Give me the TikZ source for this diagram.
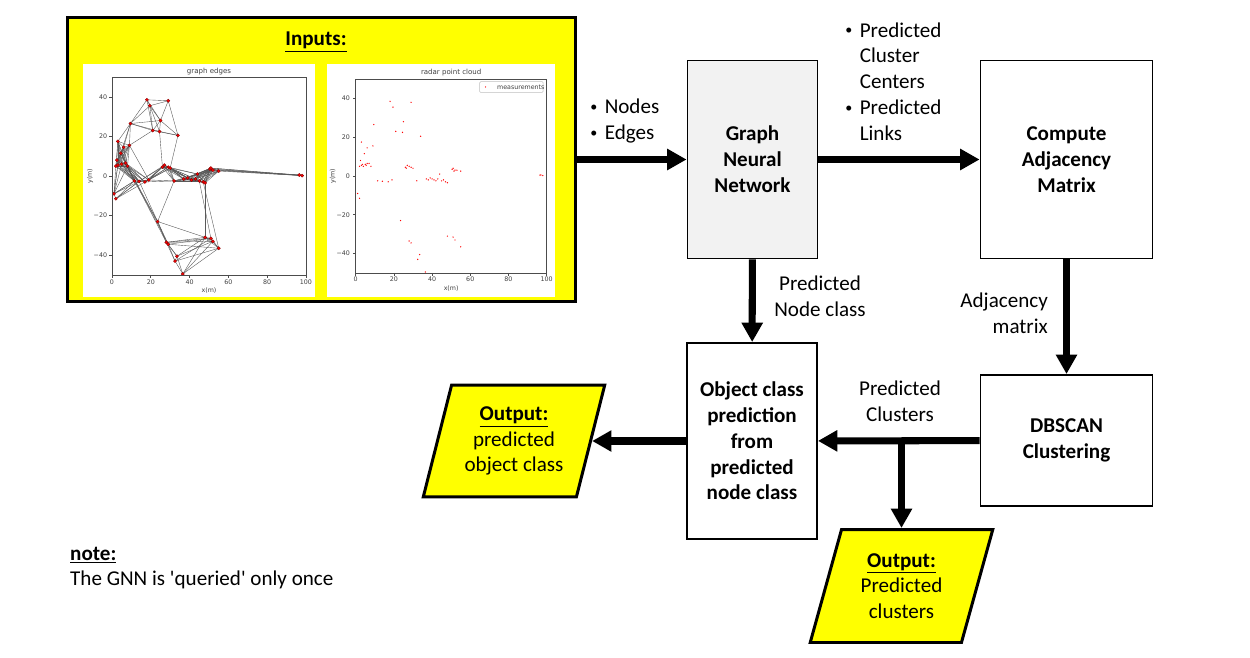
\documentclass[tikz,border=0pt]{standalone}
\usepackage{fontspec}
\setmainfont{Carlito}
\newfontfamily\plotfont{DejaVu Sans}
\usetikzlibrary{arrows.meta,shapes.geometric,positioning}

\definecolor{inyellow}{RGB}{255,255,0}
\definecolor{gnngray}{RGB}{242,242,242}
\newcommand{\bodyfont}{\fontsize{12}{14.7}\selectfont}
\newcommand{\outhead}{\underline{\textbf{Output:}}}
\newcommand{\bul}{\makebox[8.2pt][l]{\raisebox{1.3pt}{\fontsize{8}{8}\selectfont•}}}
\newcommand{\nobul}{\hspace*{8.2pt}}

% points of the two small plots (data units)
\def\graphpts{18/38.5, 19.5/35.5, 29/38, 9.5/26.5, 25/28, 21/23, 24.5/22.5,
  34/20.5, 3/17.5, 9/15.5, 6/14.5, 4.5/11.5, 2.5/8, 3/5.5, 5/6, 7/6.5, 8/5,
  2/5, 26/4.5, 27/5.5, 29/4.5, 30/4, 11.5/-2.5, 14/-2.7, 17/-3, 19/-2,
  32/-2.5, 37/-1.5, 39/-1, 41/-2, 43/-1.5, 44/1, 45/-2.5, 47/-3, 48/-3.5,
  50.5/3.5, 51/4, 52/3, 55/2.5, 96.5/0.5, 98/0.2, 1/-9, 2/-11.5, 23.5/-23,
  28/-33.5, 29/-34.5, 48/-31, 51/-31.5, 52/-33, 55/-36.5, 33.5/-40.5,
  32.5/-43, 36.5/-49.5}
\def\radarextra{3.5/6, 4/5, 5.5/5.5, 6/6.5, 26.5/4, 28/5, 38/-2, 40/-1.5,
  42/-2.5, 46/-2, 51.5/2.5, 53/3, 97/0.5}

\tikzset{
  every node/.style={font=\bodyfont},
  box/.style={draw,line width=1.1pt,align=center,inner sep=0pt,
    font=\bodyfont\bfseries},
  outbox/.style={draw,line width=1.7pt,fill=inyellow,trapezium,
    trapezium left angle=72,trapezium right angle=108,
    trapezium stretches=true,minimum width=3.64cm,minimum height=2.24cm,
    inner sep=0pt,align=center},
  bullets/.style={anchor=west,align=left,inner sep=0pt},
  axisline/.style={draw=black!70,line width=0.35pt},
  ticklbl/.style={font=\plotfont\fontsize{3.6}{4.2}\selectfont,inner sep=0.4pt,
    text=black!75},
  gedge/.style={draw=black!65,line width=0.22pt},
}

\begin{document}
\begin{tikzpicture}[x=0.02cm,y=-0.02cm]
\path[fill=white,use as bounding box] (0,0) rectangle (1250,658);

% main blocks
\node[draw,line width=1.7pt,fill=inyellow,minimum width=10.16cm,
  minimum height=5.68cm] (inputs) at (321.5,159.5) {};
\node (intitle) at (316,42) {\underline{\textbf{Inputs:}}};
\fill[white] (83,64) rectangle (315,297);
\fill[white] (327,64) rectangle (555,297);

\begin{scope}[every node/.append style={box}]
    \node[fill=gnngray,minimum width=2.6cm,minimum height=3.96cm] (gnn)
      at (752.5,159.5) {Graph\\Neural\\Network};
    \node[minimum width=3.44cm,minimum height=3.96cm] (adj)
      at (1066.5,159.5) {Compute\\Adjacency\\Matrix};
    \node[minimum width=3.44cm,minimum height=2.62cm] (dbscan)
      at (1066.5,440.5) {DBSCAN\\Clustering};
    \node[minimum width=2.6cm,minimum height=3.92cm] (objcls)
      at (752,441) {Object class\\prediction\\from\\predicted\\node class};
\end{scope}

\node[outbox] (outobj) at (514,441) {\outhead\\predicted\\object class};
\node[outbox,minimum width=3.66cm,minimum height=2.26cm] (outclu)
  at (901.5,586) {\outhead\\Predicted\\clusters};

% labels
\node[bullets] (inlbl) at (590,121) {\bul Nodes\\\bul Edges};
\node[bullets] (gnnlbl) at (845,81.5)
  {\bul Predicted\\\nobul Cluster\\\nobul Centers\\\bul Predicted\\\nobul Links};
\node[align=center] (nodelbl) at (820,296) {Predicted\\Node class};
\node[anchor=east,align=right] (adjlbl) at (1054,313) {Adjacency\\matrix};
\node[align=center] (clulbl) at (900,401) {Predicted\\Clusters};
\node[anchor=west,align=left] (note) at (64,568)
  {\underline{\textbf{note:}}\\The GNN is \textquotesingle queried\textquotesingle\ only once};

% arrows
\coordinate (br) at (901.5,441);
\begin{scope}[every edge/.style={draw=black,line width=4pt,
              -{Triangle[width=11.5pt,length=11pt]}}]
    \path (inputs) edge (gnn);
    \path (gnn) edge (adj);
    \path (adj) edge (dbscan);
    \path (gnn) edge (objcls);
    \path (dbscan) edge (objcls);
    \path (objcls) edge (objcls -| outobj.east);
    \path (br) edge (br |- outclu.north);
\end{scope}

% plot: graph edges
\begin{scope}[shift={(112,176)},x=0.0388cm,y=0.0396cm]
    \foreach [count=\i] \xa/\ya in \graphpts {
      \foreach [count=\j] \xb/\yb in \graphpts {
        \ifnum\j>\i
          \pgfmathtruncatemacro\near{veclen((\xa)-(\xb),(\ya)-(\yb))<16}
          \ifnum\near=1 \draw[gedge] (\xa,\ya) -- (\xb,\yb); \fi
        \fi
      }
    }
    \foreach \xa/\ya/\xb/\yb in {50.5/3.5/96.5/0.5, 51/4/98/0.2, 52/3/96.5/0.5,
      55/2.5/98/0.2, 50.5/3.5/98/0.2, 51/4/96.5/0.5, 52/3/98/0.2,
      23.5/-23/11.5/-2.5, 23.5/-23/14/-2.7, 23.5/-23/7/6.5, 23.5/-23/32/-2.5,
      23.5/-23/28/-33.5, 23.5/-23/48/-31, 7/6.5/28/-33.5, 8/5/29/-34.5,
      28/-33.5/48/-31, 28/-33.5/51/-31.5, 28/-33.5/52/-33, 29/-34.5/55/-36.5,
      29/-34.5/51/-31.5, 33.5/-40.5/48/-31, 33.5/-40.5/52/-33,
      32.5/-43/51/-31.5, 32.5/-43/55/-36.5, 36.5/-49.5/48/-31,
      36.5/-49.5/55/-36.5, 36.5/-49.5/52/-33, 48/-3.5/48/-31,
      47/-3/55/-36.5, 45/-2.5/51/-31.5, 1/-9/11.5/-2.5, 2/-11.5/14/-2.7,
      1/-9/3/5.5, 2/-11.5/17/-3, 34/20.5/30/4, 24.5/22.5/26/4.5,
      9/15.5/19/-2, 29/38/34/20.5}
      \draw[gedge] (\xa,\ya) -- (\xb,\yb);
    \foreach \x/\y in \graphpts
      \filldraw[fill=red,draw=red!50!black,line width=0.2pt] (\x,\y) circle[radius=0.9pt];
    \draw[axisline] (0,-50) rectangle (100,50);
    \foreach \t in {0,20,...,100} {
      \draw[axisline] (\t,-50) -- (\t,-51.3);
      \node[ticklbl] at (\t,-53.4) {\t};
    }
    \foreach \t/\s in {-40/−40,-20/−20,0/0,20/20,40/40} {
      \draw[axisline] (0,\t) -- (-1.3,\t);
      \node[ticklbl,anchor=east] at (-2,\t) {\s};
    }
    \node[ticklbl] at (50,-58) {x(m)};
    \node[ticklbl,rotate=90] at (-11.3,0) {y(m)};
    \node[ticklbl,font=\plotfont\fontsize{4}{4.8}\selectfont] at (50,53) {graph edges};
\end{scope}

% plot: radar point cloud
\begin{scope}[shift={(355.7,176)},x=0.0382cm,y=0.0388cm]
    \foreach \x/\y in \graphpts
      \fill[red] (\x,\y) circle[radius=0.4pt];
    \foreach \x/\y in \radarextra
      \fill[red] (\x,\y) circle[radius=0.4pt];
    \draw[axisline] (0,-50) rectangle (100,50);
    \foreach \t in {0,20,...,100} {
      \draw[axisline] (\t,-50) -- (\t,-51.3);
      \node[ticklbl] at (\t,-53) {\t};
    }
    \foreach \t/\s in {-40/−40,-20/−20,0/0,20/20,40/40} {
      \draw[axisline] (0,\t) -- (-1.3,\t);
      \node[ticklbl,anchor=east] at (-2.5,\t) {\s};
    }
    \node[ticklbl] at (50,-58.2) {x(m)};
    \node[ticklbl,rotate=90] at (-11.9,0) {y(m)};
    \node[ticklbl,font=\plotfont\fontsize{4}{4.8}\selectfont] at (50,53.2) {radar point cloud};
    \draw[draw=black!25,line width=0.3pt,rounded corners=0.6pt] (64.9,48.6) rectangle (98.2,43.1);
    \fill[red] (68,45.9) circle[radius=0.4pt];
    \node[ticklbl,anchor=west] at (73.5,45.9) {measurements};
\end{scope}
\end{tikzpicture}
\end{document}
